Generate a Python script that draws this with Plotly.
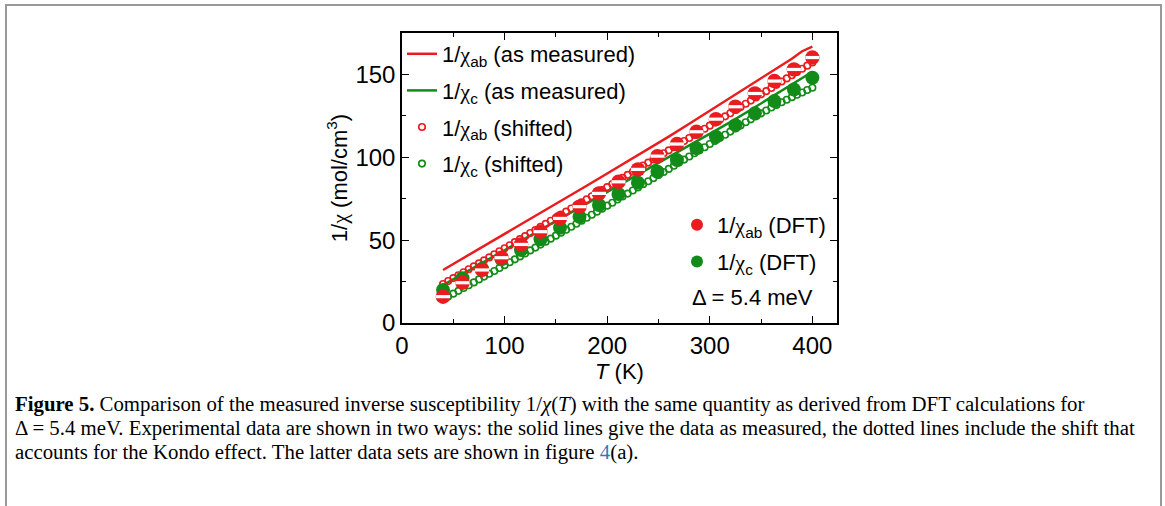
import plotly.graph_objects as go

# ---------------- data ----------------
T_meas = [40, 60, 80, 100, 120, 140, 160, 180, 200, 220, 240, 260, 280, 300, 320, 340, 360, 380, 390, 400]
chi_ab_meas = [32.0, 39.2, 46.4, 53.6, 60.8, 68.0, 75.5, 82.8, 90.2, 97.5, 104.9, 112.5, 120.2, 128.0,
               135.8, 143.8, 151.8, 159.5, 164.0, 166.8]
chi_c_meas = [22.9, 29.9, 36.9, 43.9, 50.9, 58.0, 64.9, 71.8, 78.8, 85.7, 92.7, 99.7, 106.7, 113.8,
              121.2, 128.7, 136.3, 144.0, 147.8, 151.6]

T_shift = [40, 45, 50, 55, 60, 65, 70, 75, 80, 85, 90, 95, 100, 105, 110, 115, 120, 125, 130, 135,
           140, 145, 150, 155, 160, 165, 170, 175, 180, 185, 190, 195, 200, 205, 210, 215, 220, 225,
           230, 235, 240, 245, 250, 255, 260, 265, 270, 275, 280, 285, 290, 295, 300, 305, 310, 315,
           320, 325, 330, 335, 340, 345, 350, 355, 360, 365, 370, 375, 380, 385, 390, 395, 400]
chi_ab_shift = [23.5, 25.3, 27.1, 28.8, 30.6, 32.4, 34.2, 36.0, 37.8, 39.6, 41.5, 43.3, 45.1, 46.9,
                48.8, 50.6, 52.4, 54.3, 56.1, 58.0, 59.8, 61.7, 63.5, 65.4, 67.2, 69.1, 70.9, 72.8,
                74.6, 76.5, 78.3, 80.2, 82.0, 83.9, 85.7, 87.6, 89.4, 91.3, 93.1, 95.0, 96.8, 98.7,
                100.5, 102.4, 104.2, 106.1, 107.9, 109.8, 111.6, 113.5, 115.4, 117.2, 119.1, 121.0,
                122.9, 124.7, 126.6, 128.5, 130.4, 132.3, 134.2, 136.1, 138.0, 139.9, 141.8, 143.7,
                145.7, 147.6, 149.5, 151.4, 153.4, 155.3, 157.2]
chi_c_shift = [14.3, 16.0, 17.7, 19.4, 21.1, 22.8, 24.5, 26.3, 28.0, 29.7, 31.4, 33.2, 34.9, 36.7,
               38.4, 40.2, 42.0, 43.8, 45.5, 47.3, 49.1, 50.9, 52.7, 54.5, 56.3, 58.1, 59.9, 61.7,
               63.5, 65.3, 67.2, 69.0, 70.8, 72.6, 74.5, 76.3, 78.1, 80.0, 81.8, 83.7, 85.5, 87.4,
               89.3, 91.1, 93.0, 94.9, 96.8, 98.6, 100.5, 102.4, 104.3, 106.1, 108.0, 109.9, 111.8,
               113.6, 115.5, 117.4, 119.2, 121.1, 122.9, 124.7, 126.5, 128.2, 130.0, 131.6, 133.2,
               134.7, 136.3, 137.7, 139.1, 140.6, 142.0]

T_dft = [40, 59, 78, 97, 116, 135, 154, 173, 192, 211, 230, 249, 268, 287, 306, 325, 344, 363, 382, 400]
chi_ab_dft = [15.9, 24.3, 32.0, 39.4, 47.4, 55.1, 63.1, 70.2, 78.2, 85.2, 92.7, 100.7, 108.0, 115.4,
              123.0, 130.5, 138.5, 146.0, 153.0, 160.2]
chi_c_dft = [19.9, 27.0, 32.8, 38.4, 44.0, 50.5, 57.5, 64.1, 71.2, 77.8, 84.6, 91.3, 98.3, 105.4,
             112.4, 119.4, 126.5, 133.9, 140.9, 148.0]

x_ticks = [0, 100, 200, 300, 400]
y_ticks = [0, 50, 100, 150]

RED = "#ea1c1f"
GREEN = "#138b18"
SANS = "Liberation Sans, Arial, sans-serif"
SERIF = "Liberation Serif, Times New Roman, serif"

# ---------------- geometry (page pixels; body margin removed by post_script) ----------------
W, H = 1165, 506
L, R, TOP, BOT = 402, 837, 33, 323
PW, PH = R - L, BOT - TOP


def px(x):
    return (x - L) / PW


def py(y):
    return (BOT - y) / PH


CHI = "<span style='font-family:Liberation Serif'>χ</span>"

fig = go.Figure()

fig.add_trace(go.Scatter(x=T_meas, y=chi_ab_meas, mode="lines", line=dict(color=RED, width=2.5),
                         name=f"1/{CHI}<sub>ab</sub> (as measured)", legend="legend", legendgroup="a", legendrank=1))
fig.add_trace(go.Scatter(x=T_meas, y=chi_c_meas, mode="lines", line=dict(color=GREEN, width=2.5),
                         name=f"1/{CHI}<sub>c</sub> (as measured)", legend="legend", legendgroup="b", legendrank=2))
fig.add_trace(go.Scatter(x=T_shift, y=chi_ab_shift, mode="markers",
                         marker=dict(symbol="circle-open", size=6.5, color=RED, line=dict(width=1.6)),
                         name=f"1/{CHI}<sub>ab</sub> (shifted)", legend="legend", legendgroup="c", legendrank=3))
fig.add_trace(go.Scatter(x=T_shift, y=chi_c_shift, mode="markers",
                         marker=dict(symbol="circle-open", size=6.5, color=GREEN, line=dict(width=1.6)),
                         name=f"1/{CHI}<sub>c</sub> (shifted)", legend="legend", legendgroup="d", legendrank=4))
fig.add_trace(go.Scatter(x=T_dft, y=chi_c_dft, mode="markers",
                         marker=dict(symbol="circle", size=14, color=GREEN),
                         name=f"1/{CHI}<sub>c</sub> (DFT)", legend="legend2", legendgroup="f", legendrank=6))
fig.add_trace(go.Scatter(x=T_dft, y=chi_ab_dft, mode="markers",
                         marker=dict(symbol="circle", size=14.5, color=RED),
                         name=f"1/{CHI}<sub>ab</sub> (DFT)", legend="legend2", legendgroup="e", legendrank=5))
fig.add_trace(go.Scatter(x=T_dft, y=chi_ab_dft, mode="markers", showlegend=False, hoverinfo="skip",
                         marker=dict(symbol="line-ew", size=10, color="white",
                                     line=dict(width=3.2, color="white"))))

axis_common = dict(
    showline=True, linecolor="black", linewidth=1.5, mirror="allticks",
    ticks="inside", ticklen=7, tickwidth=1.3, tickcolor="black",
    showgrid=False, zeroline=False,
    tickfont=dict(family=SANS, size=24, color="black"),
    minor=dict(ticks="inside", ticklen=4, tickwidth=1.2, tickcolor="black", showgrid=False),
)

fig.update_xaxes(range=[0, 424], tickvals=x_ticks, ticktext=[str(v) for v in x_ticks],
                 minor_tickvals=[50, 150, 250, 350],
                 title=dict(text="<i>T</i> (K)", font=dict(family=SANS, size=22, color="black"), standoff=4),
                 **axis_common)
fig.update_yaxes(range=[0, 175], tickvals=y_ticks, ticktext=[str(v) for v in y_ticks],
                 minor_tickvals=[25, 75, 125, 175],
                 title=dict(text=f"1/{CHI} (mol/cm<sup>3</sup>)", font=dict(family=SANS, size=22, color="black"),
                            standoff=2),
                 **axis_common)

legend_font = dict(family=SANS, size=22, color="black")
fig.update_layout(
    width=W, height=H,
    margin=dict(l=L, r=W - R, t=TOP, b=H - BOT, pad=0),
    paper_bgcolor="white", plot_bgcolor="white",
    legend=dict(x=0.0, y=1.0, xanchor="left", yanchor="top", bgcolor="rgba(0,0,0,0)",
                font=legend_font, traceorder="grouped", tracegroupgap=5, itemwidth=30,
                borderwidth=0),
    legend2=dict(x=px(677), y=py(204), xanchor="left", yanchor="top", bgcolor="rgba(0,0,0,0)",
                 font=legend_font, traceorder="grouped", tracegroupgap=5, itemwidth=30,
                 itemsizing="constant", borderwidth=0),
    showlegend=True,
)

# Δ annotation
fig.add_annotation(xref="paper", yref="paper", x=px(752), y=py(297), text="Δ = 5.4 meV",
                   showarrow=False, xanchor="center", yanchor="middle",
                   font=dict(family=SANS, size=22, color="black"))

# outer border of the figure panel
fig.add_shape(type="rect", xref="paper", yref="paper", x0=px(6), x1=px(1161), y0=py(5), y1=py(540),
              line=dict(color="#999999", width=2), fillcolor="rgba(0,0,0,0)", layer="below")

caption = [
    "<b>Figure 5.</b> Comparison of the measured inverse susceptibility 1/<i>χ</i>(<i>T</i>) with the same quantity as derived from DFT calculations for",
    "Δ = 5.4 meV. Experimental data are shown in two ways: the solid lines give the data as measured, the dotted lines include the shift that",
    "accounts for the Kondo effect. The latter data sets are shown in figure <span style='color:#2b7bb9'>4</span>(a).",
]
for i, line in enumerate(caption):
    fig.add_annotation(xref="paper", yref="paper", x=px(13), y=py(404 + 24 * i), text=line,
                       showarrow=False, xanchor="left", yanchor="middle", align="left",
                       font=dict(family=SERIF, size=20.8, color="black"))

fig.write_html("out.html", config={"displayModeBar": False},
               post_script="document.body.style.margin='0';")
